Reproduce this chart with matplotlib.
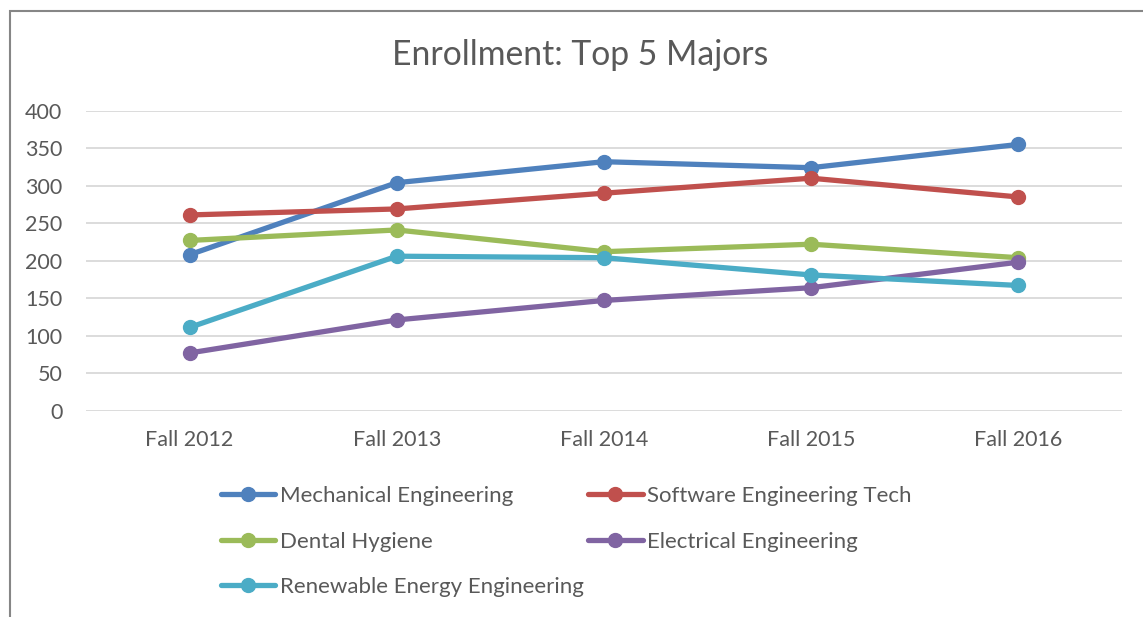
import matplotlib.pyplot as plt
from matplotlib.patches import Rectangle

plt.rcParams['font.family'] = ['Lato', 'DejaVu Sans']

terms = ["Fall 2012", "Fall 2013", "Fall 2014", "Fall 2015", "Fall 2016"]
mechanical = [208, 304, 332, 324, 355]
software = [261, 269, 290, 310, 285]
dental = [227, 241, 212, 222, 204]
electrical = [77, 121, 147, 164, 198]
renewable = [111, 206, 204, 181, 167]

series = [
    ("Mechanical Engineering", mechanical, "#4F81BD"),
    ("Software Engineering Tech", software, "#C0504D"),
    ("Dental Hygiene", dental, "#9BBB59"),
    ("Electrical Engineering", electrical, "#8064A2"),
    ("Renewable Energy Engineering", renewable, "#4BACC6"),
]

text_color = "#595959"

fig = plt.figure(figsize=(11.43, 6.17), dpi=100)
ax = fig.add_axes([86 / 1143, 1 - 410.7 / 617, (1121.7 - 86) / 1143, 300 / 617])

x = range(len(terms))
for name, vals, col in series:
    ax.plot(x, vals, color=col, lw=3.8, marker="o", ms=10, label=name,
            solid_capstyle="round", zorder=3)

ax.set_xlim(-0.5, len(terms) - 0.5)
ax.set_ylim(0, 400)
ax.set_yticks(range(0, 401, 50))
ax.set_xticks(list(x))
ax.set_xticklabels(terms)
ax.grid(axis="y", color="#D9D9D9", lw=1.3)
ax.set_axisbelow(True)
for s in ax.spines.values():
    s.set_visible(False)
ax.tick_params(length=0, labelsize=15.5, colors=text_color, pad=17)
ax.tick_params(axis="x", pad=14)

fig.text(0.508, 1 - 55 / 617, "Enrollment: Top 5 Majors", ha="center", va="center",
         fontsize=24.3, color=text_color)

# legend fills column by column, so reorder to read across rows like the original
handles, labels = ax.get_legend_handles_labels()
order = [0, 2, 4, 1, 3]
leg = fig.legend([handles[i] for i in order], [labels[i] for i in order],
                 ncol=2, loc="upper left",
                 bbox_to_anchor=(221 / 1143, 1 - 486 / 617), frameon=False,
                 fontsize=16, handlelength=2.45, handletextpad=0.2,
                 columnspacing=0.2, labelspacing=1.15, borderpad=0, borderaxespad=0)
for t in leg.get_texts():
    t.set_color(text_color)

# chart border (left and top visible in the crop)
fig.add_artist(Rectangle((9.5 / 1143, -0.1), 1.2, 1.1 - 11 / 617,
                         transform=fig.transFigure, fill=False,
                         edgecolor="#868686", lw=1.5))

fig.savefig("out.png", dpi=100)
